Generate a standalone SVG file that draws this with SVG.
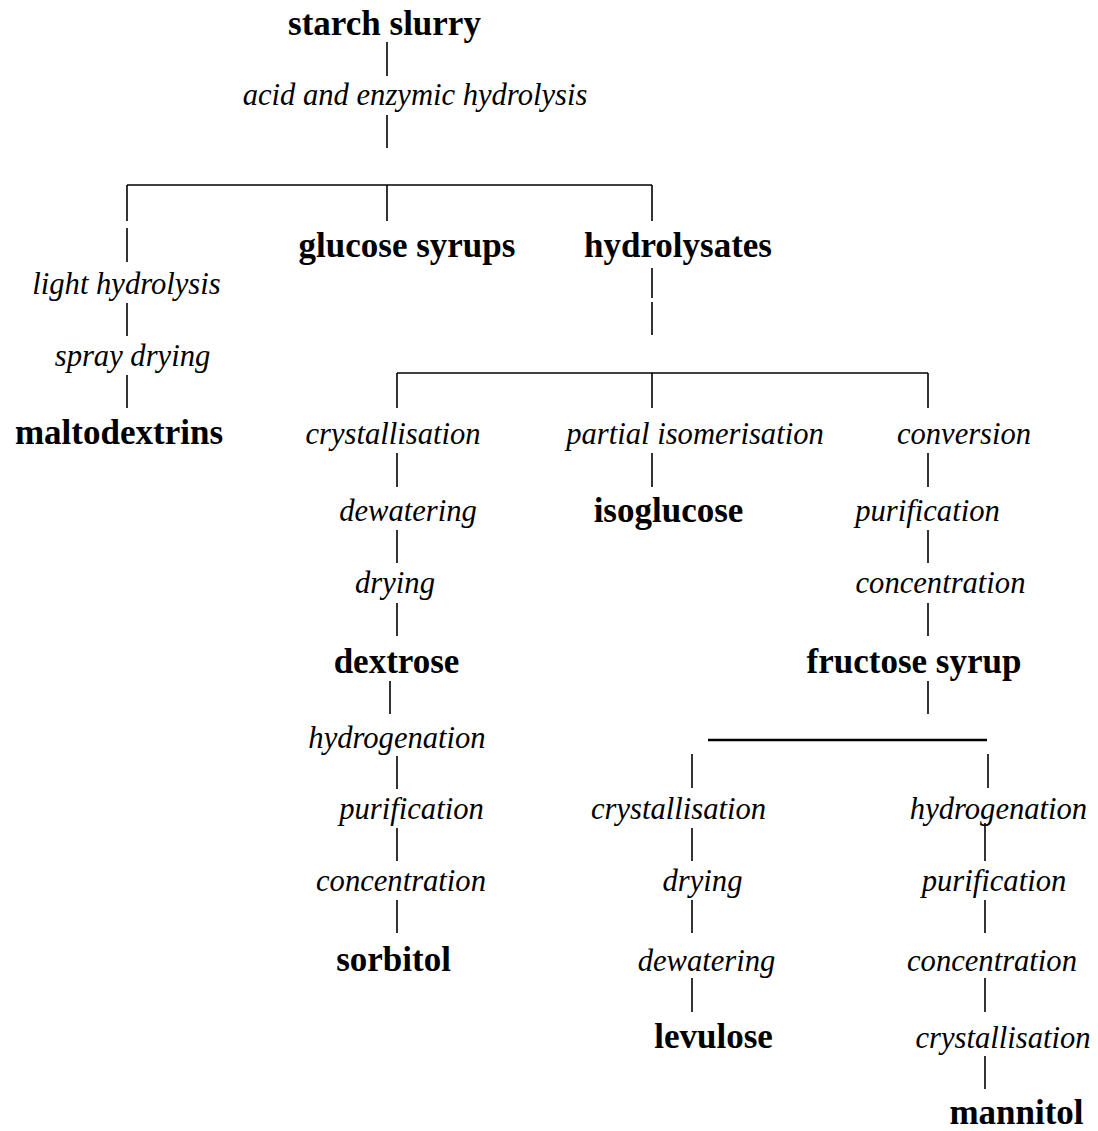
<svg xmlns="http://www.w3.org/2000/svg" width="1098" height="1131" viewBox="0 0 1098 1131">
<style>
.b{font-family:"Liberation Serif","Times New Roman",serif;font-weight:bold;font-size:35px;text-anchor:middle;fill:#000}
.i{font-family:"Liberation Serif","Times New Roman",serif;font-style:italic;font-size:30.6px;text-anchor:middle;fill:#000}
.c line{stroke:#000;stroke-width:1.6}
.c .t{stroke-width:2.6}
</style>
<rect width="1098" height="1131" fill="#fff"/>
<g id="connectors" class="c">
<line x1="387" y1="42" x2="387" y2="76"/>
<line x1="387" y1="115" x2="387" y2="148"/>
<line x1="127" y1="185" x2="652" y2="185"/>
<line x1="127" y1="185" x2="127" y2="221"/>
<line x1="387" y1="185" x2="387" y2="221"/>
<line x1="652" y1="185" x2="652" y2="221"/>
<line x1="127" y1="228" x2="127" y2="262"/>
<line x1="652" y1="268" x2="652" y2="298"/>
<line x1="652" y1="302" x2="652" y2="335"/>
<line x1="127" y1="303" x2="127" y2="336"/>
<line x1="127" y1="375" x2="127" y2="408"/>
<line x1="397" y1="373" x2="928" y2="373"/>
<line x1="397" y1="373" x2="397" y2="408"/>
<line x1="652" y1="373" x2="652" y2="408"/>
<line x1="928" y1="373" x2="928" y2="408"/>
<line x1="397" y1="453" x2="397" y2="487"/>
<line x1="652" y1="453" x2="652" y2="487"/>
<line x1="928" y1="453" x2="928" y2="487"/>
<line x1="397" y1="530" x2="397" y2="563"/>
<line x1="928" y1="530" x2="928" y2="563"/>
<line x1="397" y1="603" x2="397" y2="636"/>
<line x1="928" y1="603" x2="928" y2="636"/>
<line x1="390" y1="681" x2="390" y2="714"/>
<line x1="928" y1="681" x2="928" y2="714"/>
<line class="t" x1="708" y1="740" x2="987" y2="740"/>
<line x1="397" y1="756" x2="397" y2="789"/>
<line x1="692" y1="754" x2="692" y2="788"/>
<line x1="988" y1="754" x2="988" y2="788"/>
<line x1="397" y1="828" x2="397" y2="861"/>
<line x1="692" y1="828" x2="692" y2="861"/>
<line x1="985" y1="823" x2="985" y2="861"/>
<line x1="397" y1="900" x2="397" y2="933"/>
<line x1="692" y1="900" x2="692" y2="933"/>
<line x1="985" y1="900" x2="985" y2="933"/>
<line x1="692" y1="978" x2="692" y2="1012"/>
<line x1="985" y1="978" x2="985" y2="1012"/>
<line x1="985" y1="1056" x2="985" y2="1089"/>
</g>
<g id="starch-slurry"><text class="b" x="384.5" y="35">starch slurry</text></g>
<g id="acid-enzymic"><text class="i" x="415" y="105">acid and enzymic hydrolysis</text></g>
<g id="glucose-syrups"><text class="b" x="407" y="257">glucose syrups</text></g>
<g id="hydrolysates"><text class="b" x="678" y="257">hydrolysates</text></g>
<g id="light-hydrolysis"><text class="i" x="126.5" y="294">light hydrolysis</text></g>
<g id="spray-drying"><text class="i" x="132.5" y="366">spray drying</text></g>
<g id="maltodextrins"><text class="b" x="119" y="444">maltodextrins</text></g>
<g id="crystallisation-1"><text class="i" x="393" y="444">crystallisation</text></g>
<g id="partial-isomerisation"><text class="i" x="695" y="444">partial isomerisation</text></g>
<g id="conversion"><text class="i" x="964" y="444">conversion</text></g>
<g id="dewatering-1"><text class="i" x="408" y="521">dewatering</text></g>
<g id="isoglucose"><text class="b" x="668.5" y="522">isoglucose</text></g>
<g id="purification-1"><text class="i" x="927.5" y="521">purification</text></g>
<g id="drying-1"><text class="i" x="395" y="593">drying</text></g>
<g id="concentration-1"><text class="i" x="940.5" y="593">concentration</text></g>
<g id="dextrose"><text class="b" x="396.5" y="673">dextrose</text></g>
<g id="fructose-syrup"><text class="b" x="914" y="673">fructose syrup</text></g>
<g id="hydrogenation-1"><text class="i" x="397" y="748">hydrogenation</text></g>
<g id="purification-2"><text class="i" x="411.5" y="819">purification</text></g>
<g id="crystallisation-2"><text class="i" x="678.5" y="819">crystallisation</text></g>
<g id="hydrogenation-2"><text class="i" x="998.5" y="819">hydrogenation</text></g>
<g id="concentration-2"><text class="i" x="401" y="891">concentration</text></g>
<g id="drying-2"><text class="i" x="702.5" y="891">drying</text></g>
<g id="purification-3"><text class="i" x="994" y="891">purification</text></g>
<g id="sorbitol"><text class="b" x="393.5" y="971">sorbitol</text></g>
<g id="dewatering-2"><text class="i" x="706.5" y="971">dewatering</text></g>
<g id="concentration-3"><text class="i" x="992" y="971">concentration</text></g>
<g id="levulose"><text class="b" x="713.5" y="1048">levulose</text></g>
<g id="crystallisation-3"><text class="i" x="1003" y="1048">crystallisation</text></g>
<g id="mannitol"><text class="b" x="1016.5" y="1124">mannitol</text></g>
</svg>
